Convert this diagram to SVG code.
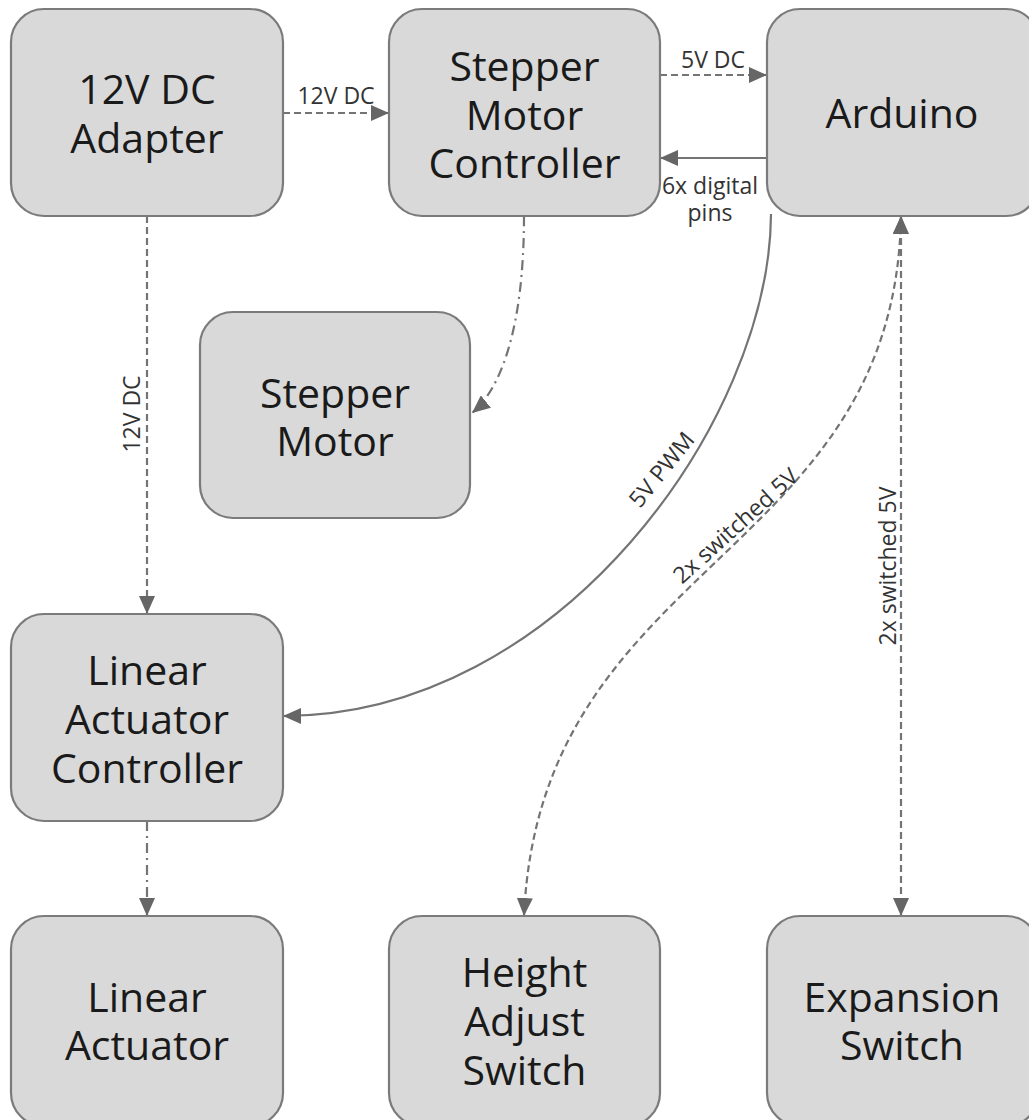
<svg xmlns="http://www.w3.org/2000/svg" width="1029" height="1120" viewBox="0 0 1029 1120">
<style>
.box{fill:#d9d9d9;stroke:#7b7b7b;stroke-width:2.2}
.t{font-family:"Open Sans","Noto Sans",sans-serif;font-size:41px;fill:#1a1a1a;text-anchor:middle}
.l{font-family:"Open Sans","Noto Sans",sans-serif;font-size:23px;fill:#333;text-anchor:middle}
.c{fill:none;stroke:#747474;stroke-width:2.2}
.d{stroke-dasharray:7 4}
.dd{stroke-dasharray:10 5 2 5}
</style>
<defs>
<marker id="ah" viewBox="0 0 18 16" markerWidth="18" markerHeight="16" refX="18" refY="8" orient="auto-start-reverse" markerUnits="userSpaceOnUse">
<path d="M0 0 L18 8 L0 16 z" fill="#666"/>
</marker>
</defs>
<rect width="1029" height="1120" fill="#fff"/>
<g id="connectors">
<path class="c d" d="M283 113 H389" marker-end="url(#ah)"/>
<path class="c d" d="M660 75 H767" marker-end="url(#ah)"/>
<path class="c" d="M767 158 H660" marker-end="url(#ah)"/>
<path class="c dd" d="M524 216 C524 330 500 390 472 413" marker-end="url(#ah)"/>
<path class="c d" d="M147 216 V614" marker-end="url(#ah)"/>
<path class="c" d="M771 214 C770 420 560 716 283 716" marker-end="url(#ah)"/>
<path class="c d" d="M901 216 C895 560 540 560 524 916" marker-start="url(#ah)" marker-end="url(#ah)"/>
<path class="c d" d="M901 216 V916" marker-start="url(#ah)" marker-end="url(#ah)"/>
<path class="c dd" d="M147 821 V916" marker-end="url(#ah)"/>
<text class="l" x="336" y="104">12V DC</text>
<text class="l" x="713" y="68">5V DC</text>
<text class="l" x="710" y="194">6x digital</text>
<text class="l" x="710" y="221">pins</text>
<text class="l" transform="translate(131 414) rotate(-90)" dominant-baseline="central">12V DC</text>
<text class="l" transform="translate(661 469) rotate(-51)" dominant-baseline="central">5V PWM</text>
<text class="l" transform="translate(735 525) rotate(-42)" dominant-baseline="central">2x switched 5V</text>
<text class="l" transform="translate(887 566) rotate(-90)" dominant-baseline="central">2x switched 5V</text>
</g>
<g id="adapter"><rect class="box" x="11" y="9" width="272" height="207" rx="33"/><text class="t" x="147" y="104">12V DC</text><text class="t" x="147" y="153">Adapter</text></g>
<g id="smc"><rect class="box" x="389" y="9" width="271" height="207" rx="33"/><text class="t" x="524.5" y="81">Stepper</text><text class="t" x="524.5" y="130">Motor</text><text class="t" x="524.5" y="178">Controller</text></g>
<g id="arduino"><rect class="box" x="767" y="9" width="272" height="207" rx="33"/><text class="t" x="902" y="128">Arduino</text></g>
<g id="stepper"><rect class="box" x="200" y="312" width="270" height="206" rx="33"/><text class="t" x="335" y="408">Stepper</text><text class="t" x="335" y="456">Motor</text></g>
<g id="lac"><rect class="box" x="11" y="614" width="272" height="207" rx="33"/><text class="t" x="147" y="685">Linear</text><text class="t" x="147" y="734">Actuator</text><text class="t" x="147" y="783">Controller</text></g>
<g id="la"><rect class="box" x="11" y="916" width="272" height="210" rx="33"/><text class="t" x="147" y="1012">Linear</text><text class="t" x="147" y="1060">Actuator</text></g>
<g id="has"><rect class="box" x="389" y="916" width="271" height="210" rx="33"/><text class="t" x="524.5" y="987">Height</text><text class="t" x="524.5" y="1036">Adjust</text><text class="t" x="524.5" y="1085">Switch</text></g>
<g id="es"><rect class="box" x="767" y="916" width="272" height="210" rx="33"/><text class="t" x="902" y="1012">Expansion</text><text class="t" x="902" y="1060">Switch</text></g>
</svg>
